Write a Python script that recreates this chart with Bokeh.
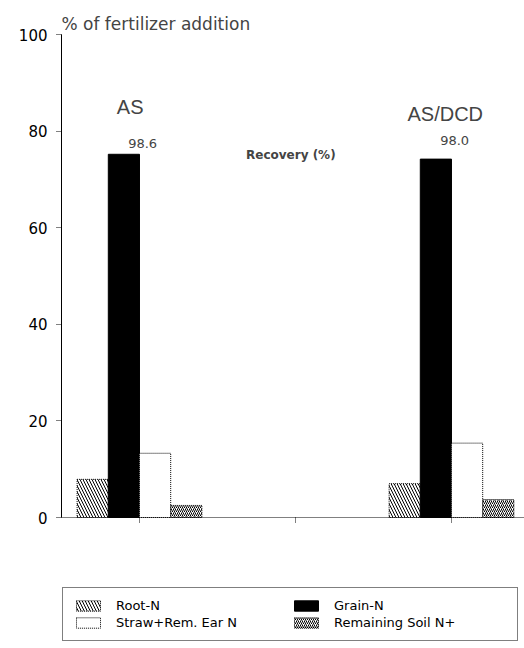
from bokeh.plotting import figure
from bokeh.models import (ColumnDataSource, Range1d, FixedTicker, Label, Legend, LegendItem)
from bokeh.transform import dodge
from bokeh.embed import file_html
from bokeh.resources import INLINE

# ---- data ----
groups = ["AS", "AS/DCD"]
group_x = [1, 3]
root_n = [7.9, 7.0]
grain_n = [75.2, 74.2]
straw_n = [13.3, 15.4]
soil_n = [2.5, 3.7]
recovery = ["98.6", "98.0"]
y_ticks = [0, 20, 40, 60, 80, 100]
x_ticks = [1, 2, 3]

src = ColumnDataSource(dict(x=group_x, root=root_n, grain=grain_n, straw=straw_n, soil=soil_n))

FONT = "DejaVu Sans"
FONT2 = "Liberation Sans"

p = figure(width=524, height=648, output_backend="svg", toolbar_location=None,
           x_range=Range1d(0.5, 3.468), y_range=Range1d(-27.12, 107.04),
           min_border_left=61, min_border_right=0, min_border_top=0, min_border_bottom=0)
p.outline_line_color = None
p.grid.visible = False
p.background_fill_color = "white"
p.border_fill_color = "white"

w = 0.2
r_root = p.vbar(x=dodge("x", -0.3), top="root", width=w, source=src, fill_color="white",
                hatch_pattern="\\", hatch_color="black", hatch_scale=6, hatch_weight=1,
                line_color="black", line_width=1, line_dash="1 1")
r_grain = p.vbar(x=dodge("x", -0.1), top="grain", width=w, source=src, fill_color="black",
                 line_color="black", line_width=1)
r_straw = p.vbar(x=dodge("x", 0.1), top="straw", width=w, source=src, fill_color="white",
                 line_color="black", line_width=1, line_dash="1 1")
r_soil = p.vbar(x=dodge("x", 0.3), top="soil", width=w, source=src, fill_color="white",
                hatch_pattern="/", hatch_color="black", hatch_scale=4, hatch_weight=1,
                line_color="black", line_width=1, line_dash="1 1")

# axes
p.yaxis.ticker = FixedTicker(ticks=y_ticks)
p.yaxis.bounds = (0, 100)
p.yaxis.minor_tick_line_color = None
p.yaxis.major_tick_out = 5
p.yaxis.major_tick_in = 0
p.yaxis.major_tick_line_dash = "1 1"
p.yaxis.axis_line_color = "black"
p.yaxis.major_label_standoff = 9
p.yaxis.major_label_text_font = FONT
p.yaxis.major_label_text_font_size = "15px"
p.yaxis.major_label_text_color = "black"

p.xaxis.ticker = FixedTicker(ticks=x_ticks)
p.xaxis.fixed_location = 0
p.xaxis.major_label_overrides = {1: "", 2: "", 3: ""}
p.xaxis.minor_tick_line_color = None
p.xaxis.major_tick_out = 5
p.xaxis.major_tick_in = 0
p.xaxis.major_tick_line_dash = "1 1"
p.xaxis.axis_line_dash = "1 1"
p.xaxis.axis_line_color = "black"

# texts
p.add_layout(Label(x=0.5, y=102.2, text="% of fertilizer addition", text_font=FONT,
                   text_font_size="17px", text_baseline="middle", text_align="left"))
for gx, name, dy, dx in zip(group_x, groups, [85.0, 83.6], [-0.06, -0.04]):
    p.add_layout(Label(x=gx + dx, y=dy, text=name, text_font=FONT2, text_font_size="20px",
                       text_align="center", text_baseline="middle"))
for gx, rec, dy in zip(group_x, recovery, [77.4, 78.0]):
    p.add_layout(Label(x=gx + 0.02, y=dy, text=rec, text_font=FONT, text_font_size="13px",
                       text_align="center", text_baseline="middle"))
p.add_layout(Label(x=1.97, y=75.0, text="Recovery (%)", text_font=FONT, text_font_size="12px",
                   text_font_style="bold", text_align="center", text_baseline="middle"))

legend = Legend(items=[
    LegendItem(label="Root-N", renderers=[r_root]),
    LegendItem(label="Straw+Rem. Ear N", renderers=[r_straw]),
    LegendItem(label="Grain-N", renderers=[r_grain]),
    LegendItem(label="Remaining Soil N+", renderers=[r_soil]),
], location=(1, 7), orientation="vertical", nrows=2,
    glyph_width=30, glyph_height=13, label_standoff=13, label_width=173, label_height=13,
    spacing=2, padding=10, margin=0, border_line_color="black", border_line_width=1,
    label_text_font=FONT, label_text_font_size="13px", label_text_color="black",
    background_fill_alpha=1)
p.add_layout(legend, "center")

open("out.html", "w").write(file_html(p, INLINE))
